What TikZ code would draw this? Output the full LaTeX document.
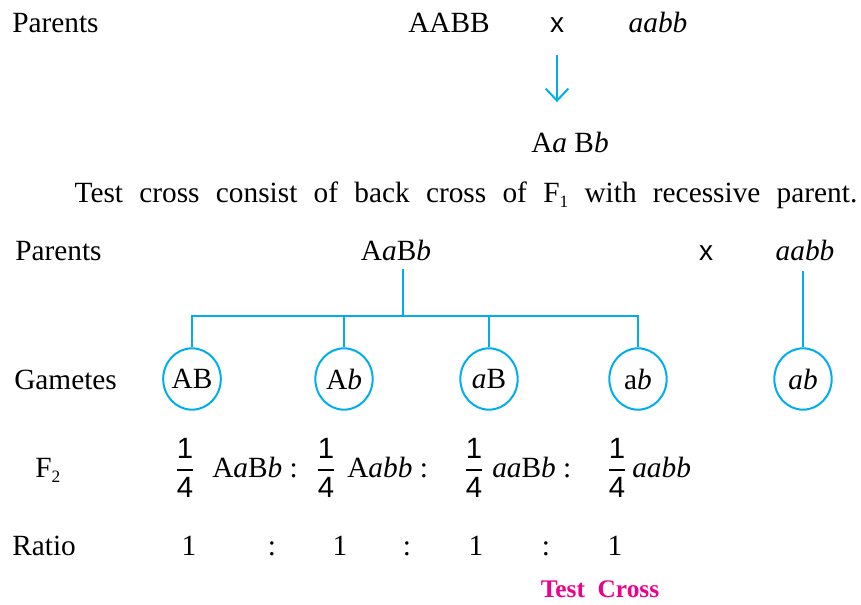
\documentclass[tikz,border=0pt]{standalone}
\usepackage{amsmath}
\usepackage{fontspec}
\setmainfont{Liberation Serif}
\newfontfamily\crossfont{Liberation Sans}
\usetikzlibrary{arrows.meta,calc,shapes.geometric}
\definecolor{gcyan}{RGB}{0,174,239}
\definecolor{gmagenta}{RGB}{236,0,140}
\newcommand{\lowsub}[1]{\raisebox{-4pt}{\fontsize{13}{13}\selectfont #1}}
\newcommand{\quarter}{$\genfrac{}{}{1.6pt}{0}{\mbox{\crossfont 1}}{\mbox{\crossfont 4}}$}

\begin{document}
\begin{tikzpicture}[x=0.75pt, y=-0.75pt,
  every node/.style={font=\fontsize{22}{26}\selectfont, inner sep=0pt, anchor=base},
  rowlabel/.style={anchor=base west},
  crossmark/.style={font=\crossfont\fontsize{21}{25}\selectfont},
  arrowline/.style={draw=gcyan, line width=1.5pt, -{Straight Barb[length=9pt, width=17pt]}},
  tree/.style={draw=gcyan, line width=2.2pt},
  gamete/.style={ellipse, draw=gcyan, line width=1.5pt, anchor=center,
    minimum width=43pt, minimum height=46pt},
  testlabel/.style={font=\bfseries\fontsize{19}{23}\selectfont, text=gmagenta}]

\useasboundingbox (0,0) rectangle (861,604);

%% First cross
\node[rowlabel] (par1) at (12,32) {Parents};
\node (p1) at (449,32) {AABB};
\node[crossmark] (cross1) at (557,32) {x};
\node (p2) at (658,32) {\textit{aabb}};
\node (f1) at (570,152) {A\textit{a} B\textit{b}};
\draw[arrowline, shorten <=17pt, shorten >=22pt] (cross1.south) -- (cross1.south |- f1.north);

%% Statement
\node (note) at (466,202) {\makebox[587pt][s]{Test cross consist of back cross of F\lowsub{1} with recessive parent.}};

%% Test cross parents
\node[rowlabel] (par2) at (15,260) {Parents};
\node (hyb) at (396,260) {A\textit{a}B\textit{b}};
\node[crossmark] (cross2) at (706,260) {x};
\node (rec) at (805,260) {\textit{aabb}};

%% Gametes
\node[rowlabel] (gam) at (14,389) {Gametes};
\node[gamete] (g1) at (192,379) {AB};
\node[gamete] (g2) at (344,379) {A\textit{b}};
\node[gamete] (g3) at (489,379) {\textit{a}B};
\node[gamete] (g4) at (638,379) {a\textit{b}};
\node[gamete] (g5) at (803,379) {\textit{ab}};

% branching lines
\coordinate (j) at (403,316);
\draw[tree] ($(j |- hyb.south)+(0,8)$) -- (j);
\draw[tree] (g1.north) -- (g1.north |- j) -- (g4.north |- j) -- (g4.north);
\foreach \g in {g2,g3}
  \draw[tree] (\g.north |- j) -- (\g.north);
\draw[tree] ($(g5.north |- rec.south)+(0,10)$) -- (g5.north);

%% F2 generation
\node[rowlabel] (f2) at (35,477) {F\lowsub{2}};
\node (fr1) at (185,477) {\quarter};
\node[rowlabel] (t1) at (212,477) {A\textit{a}B\textit{b} :};
\node (fr2) at (326,477) {\quarter};
\node[rowlabel] (t2) at (347,477) {A\textit{abb} :};
\node (fr3) at (474,477) {\quarter};
\node[rowlabel] (t3) at (492,477) {\textit{aa}B\textit{b} :};
\node (fr4) at (617,477) {\quarter};
\node[rowlabel] (t4) at (632,477) {\textit{aabb}};

%% Ratio
\node[rowlabel] (rat) at (12,555) {Ratio};
\foreach \x/\n in {189/r1, 340/r2, 476/r3, 615/r4}
  \node (\n) at (\x,555) {1};
\foreach \x/\n in {272/c1, 407/c2, 546/c3}
  \node (\n) at (\x,555) {:};
\node[testlabel] (tc) at (600,597) {Test\ \ Cross};

\end{tikzpicture}
\end{document}
